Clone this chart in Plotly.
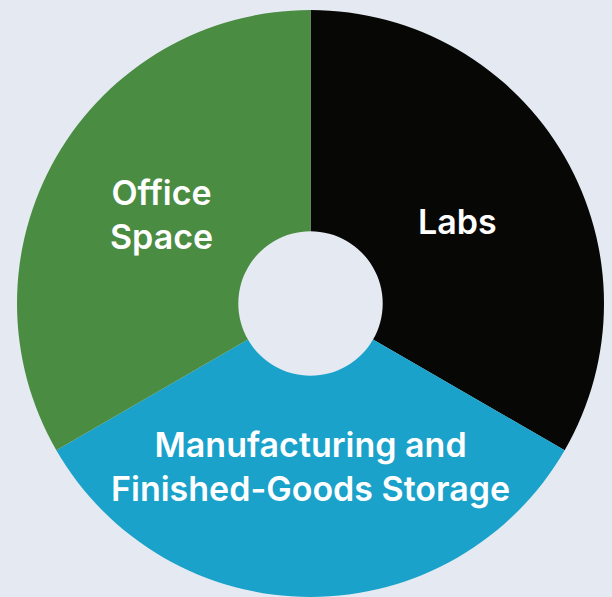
import plotly.graph_objects as go

labels = ["Labs", "Manufacturing and<br>Finished-Goods Storage", "Office<br>Space"]
values = [1, 1, 1]
colors = ["#070806", "#1aa2cb", "#4a8c42"]

fig = go.Figure(go.Pie(
    labels=labels,
    values=values,
    hole=0.246,
    sort=False,
    direction="clockwise",
    rotation=0,
    marker=dict(colors=colors, line=dict(width=0)),
    textinfo="none",
    showlegend=False,
    hoverinfo="label",
))

# label anchor points (paper coordinates) for each slice's text
label_pos = [(0.7446, 0.6405), (0.4992, 0.2215), (0.2537, 0.6508)]
for lab, (x, y) in zip(labels, label_pos):
    fig.add_annotation(
        x=x, y=y, xref="paper", yref="paper",
        xanchor="center", yanchor="middle",
        text=lab, showarrow=False, align="center",
        font=dict(family="Inter", size=34, color="white", weight=600),
    )

fig.update_layout(
    width=612, height=597,
    margin=dict(l=9, r=0, t=10, b=0),
    paper_bgcolor="#e5eaf2",
    plot_bgcolor="#e5eaf2",
)

post = (
    "document.body.style.margin='0';"
    "document.body.style.background='#e5eaf2';"
)

fig.write_html("out.html", config={"displayModeBar": False}, post_script=post)
